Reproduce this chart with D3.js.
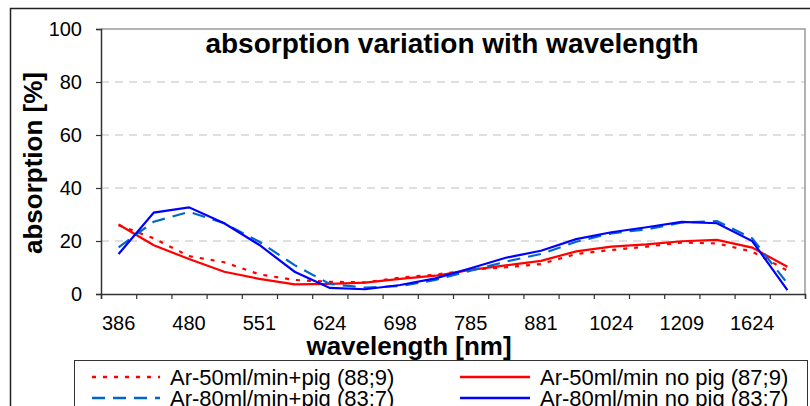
<!DOCTYPE html>
<html>
<head>
<meta charset="utf-8">
<script src="https://cdn.jsdelivr.net/npm/d3@7"></script>
<style>
  body { margin: 0; background: #fff; }
  svg { display: block; font-family: "Liberation Sans", Arial, sans-serif; }
</style>
</head>
<body>
<div id="chart"></div>
<script>
// Data (20 wavelength categories, every other one labelled)
const tickLabels = ["386", "480", "551", "624", "698", "785", "881", "1024", "1209", "1624"];
const categories = d3.range(20);
const ar50Pig   = [26.0, 21.0, 14.3, 12.0, 7.4, 5.3, 4.6, 4.4, 6.2, 7.3, 9.1, 10.1, 11.3, 15.1, 16.6, 17.9, 19.4, 19.1, 16.0, 8.8];
const ar50NoPig = [26.2, 18.4, 13.2, 8.4, 5.7, 3.6, 3.8, 4.3, 5.7, 6.9, 9.1, 10.8, 12.5, 16.1, 17.9, 18.7, 19.9, 20.4, 17.5, 10.3];
const ar80Pig   = [17.6, 27.3, 31.0, 26.7, 19.7, 10.9, 3.8, 2.4, 3.0, 5.3, 8.8, 12.2, 15.1, 19.7, 22.9, 24.4, 27.0, 27.5, 21.0, 4.0];
const ar80NoPig = [15.1, 30.7, 32.7, 26.7, 18.5, 8.4, 2.3, 1.8, 3.4, 5.9, 9.7, 13.7, 16.3, 20.7, 23.3, 25.2, 27.2, 26.7, 20.0, 1.5];
const yTicks = [0, 20, 40, 60, 80, 100];

const series = [
  { name: "Ar-50ml/min+pig (88;9)",   values: ar50Pig,   color: "#ff0000", dash: "4,7",  col: 0, row: 0 },
  { name: "Ar-50ml/min no pig (87;9)", values: ar50NoPig, color: "#ff0000", dash: null,   col: 1, row: 0 },
  { name: "Ar-80ml/min+pig (83;7)",   values: ar80Pig,   color: "#0066cc", dash: "13,8", col: 0, row: 1 },
  { name: "Ar-80ml/min no pig (83;7)", values: ar80NoPig, color: "#0000ff", dash: null,   col: 1, row: 1 }
];

const W = 810, H = 406;
const plot = { left: 101, right: 805, top: 29, bottom: 294 };

const svg = d3.select("#chart").append("svg")
  .attr("width", W)
  .attr("height", H);

// outer chart frame
svg.append("rect")
  .attr("x", 10.5).attr("y", 8.5)
  .attr("width", W).attr("height", H)
  .attr("fill", "none").attr("stroke", "#222").attr("stroke-width", 1.5);

const x = d3.scaleBand().domain(categories).range([plot.left, plot.right]).padding(0);
const xEdge = d3.scaleLinear().domain([0, categories.length]).range([plot.left, plot.right]);
const y = d3.scaleLinear().domain([0, 100]).range([plot.bottom, plot.top]);
const cx = i => x(i) + x.bandwidth() / 2;

// gridlines
svg.append("g").selectAll("line")
  .data(yTicks.filter(d => d > 0 && d < 100))
  .join("line")
  .attr("x1", plot.left).attr("x2", plot.right)
  .attr("y1", d => y(d)).attr("y2", d => y(d))
  .attr("stroke", "#c0c0c0").attr("stroke-dasharray", "8,6");

// plot border (top and right grey)
svg.append("path")
  .attr("d", `M${plot.left},${y(100)}H${plot.right}V${plot.bottom}`)
  .attr("fill", "none").attr("stroke", "#999").attr("stroke-width", 1.5);

// axes
const yAxis = svg.append("g")
  .attr("transform", `translate(${plot.left},0)`)
  .call(d3.axisLeft(y).tickValues(yTicks).tickSize(5).tickPadding(14));
const xAxis = svg.append("g")
  .attr("transform", `translate(0,${plot.bottom})`)
  .call(d3.axisBottom(xEdge).tickValues(d3.range(categories.length + 1)).tickSize(5).tickFormat(""));
const xLabels = svg.append("g")
  .attr("transform", `translate(0,${plot.bottom})`)
  .call(d3.axisBottom(x).tickValues(categories.filter(i => i % 2 === 0))
    .tickFormat(i => tickLabels[i / 2]).tickSize(0).tickPadding(22));
xLabels.select(".domain").remove();

[yAxis, xAxis].forEach(g => {
  g.select(".domain").attr("stroke", "#333").attr("stroke-width", 1.5);
  g.selectAll(".tick line").attr("stroke", "#333").attr("stroke-width", 1.2);
});
yAxis.selectAll("text").attr("font-size", 20).attr("fill", "#000");
xLabels.selectAll("text").attr("font-size", 20).attr("fill", "#000");

// series lines
const line = d3.line().x((d, i) => cx(i)).y(d => y(d));
svg.append("g").selectAll("path")
  .data(series)
  .join("path")
  .attr("d", d => line(d.values))
  .attr("fill", "none")
  .attr("stroke", d => d.color)
  .attr("stroke-width", 2.2)
  .attr("stroke-dasharray", d => d.dash);

// titles
svg.append("text")
  .attr("x", 452).attr("y", 53)
  .attr("text-anchor", "middle")
  .attr("font-size", 28).attr("font-weight", "bold")
  .text("absorption variation with wavelength");

svg.append("text")
  .attr("x", 409).attr("y", 355)
  .attr("text-anchor", "middle")
  .attr("font-size", 26).attr("font-weight", "bold")
  .text("wavelength [nm]");

svg.append("text")
  .attr("transform", "translate(42,163) rotate(-90)")
  .attr("text-anchor", "middle")
  .attr("font-size", 26).attr("font-weight", "bold")
  .text("absorption [%]");

// legend
const legend = svg.append("g");
legend.append("rect")
  .attr("x", 74.5).attr("y", 360.5)
  .attr("width", 733).attr("height", 80)
  .attr("fill", "#fff").attr("stroke", "#333").attr("stroke-width", 1);

const colX = [{ l: 92, r: 160, t: 170 }, { l: 460, r: 530, t: 540 }];
const rowY = [377, 398];
const items = legend.selectAll("g.item")
  .data(series)
  .join("g")
  .attr("class", "item");
items.append("line")
  .attr("x1", d => colX[d.col].l).attr("x2", d => colX[d.col].r)
  .attr("y1", d => rowY[d.row]).attr("y2", d => rowY[d.row])
  .attr("stroke", d => d.color)
  .attr("stroke-width", 2.5)
  .attr("stroke-dasharray", d => d.dash);
items.append("text")
  .attr("x", d => colX[d.col].t)
  .attr("y", d => rowY[d.row] + 8)
  .attr("font-size", 22)
  .text(d => d.name);
</script>
</body>
</html>
